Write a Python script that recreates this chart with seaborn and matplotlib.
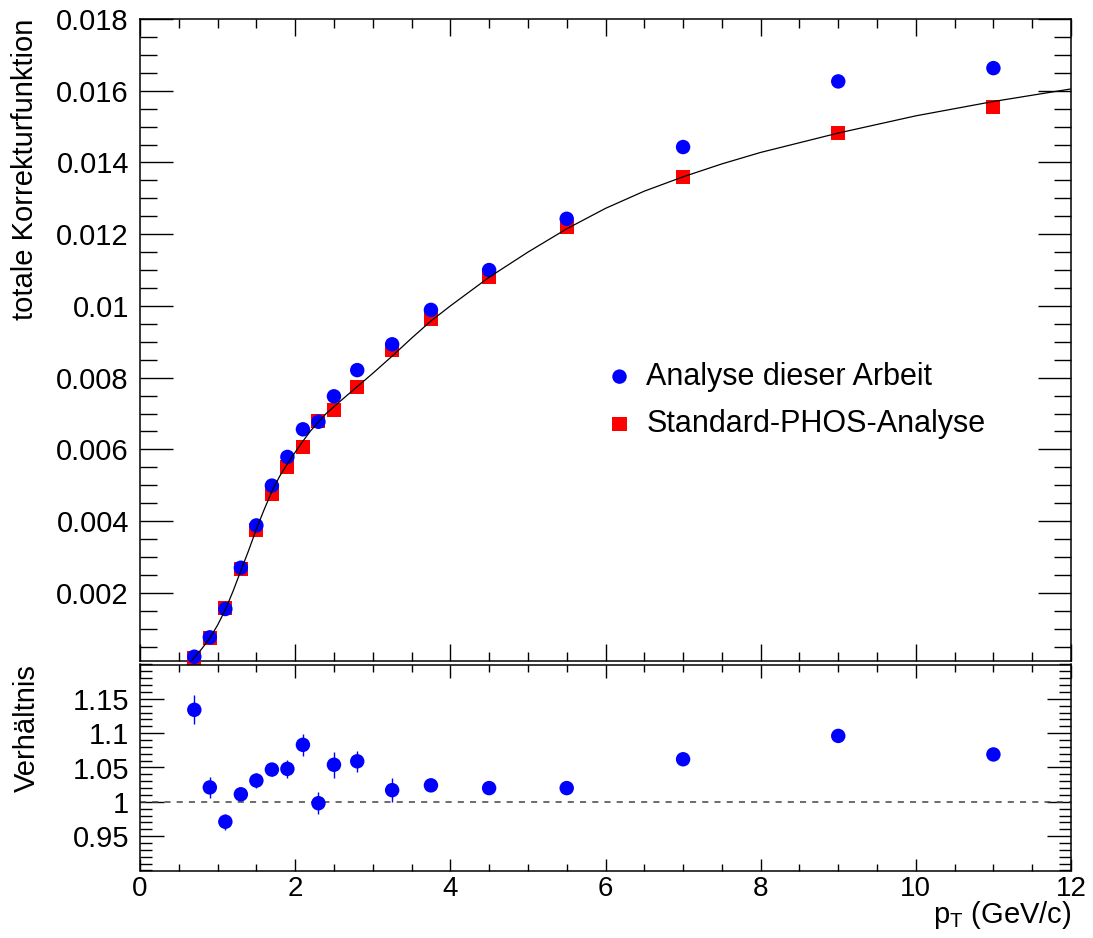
import numpy as np
import pandas as pd
import matplotlib
matplotlib.use("Agg")
import matplotlib.pyplot as plt
from matplotlib.ticker import MultipleLocator, FixedLocator
import seaborn as sns

# ---------------- data ----------------
pt = [0.7, 0.9, 1.1, 1.3, 1.5, 1.7, 1.9, 2.1, 2.3, 2.5, 2.8, 3.25, 3.75, 4.5, 5.5, 7.0, 9.0, 11.0]
corr_this = [0.00022, 0.00076, 0.00155, 0.00270, 0.00388, 0.00499, 0.00579, 0.00656, 0.00677,
             0.00748, 0.00821, 0.00893, 0.00989, 0.01100, 0.01243, 0.01443, 0.01626, 0.01663]
corr_std = [0.00019, 0.00074, 0.00159, 0.00267, 0.00375, 0.00476, 0.00552, 0.00606, 0.00679,
            0.00709, 0.00775, 0.00878, 0.00965, 0.01080, 0.01219, 0.01359, 0.01481, 0.01555]
ratio = [1.134, 1.021, 0.971, 1.011, 1.031, 1.047, 1.048, 1.083, 0.998,
         1.054, 1.059, 1.017, 1.024, 1.020, 1.020, 1.062, 1.096, 1.069]
ratio_err = [0.021, 0.015, 0.012, 0.006, 0.011, 0.009, 0.013, 0.016, 0.016,
             0.019, 0.015, 0.017, 0.006, 0.005, 0.005, 0.004, 0.004, 0.004]

# fit curve
fit_x = [0.63, 0.7, 0.8, 0.9, 1.0, 1.1, 1.2, 1.3, 1.4, 1.5, 1.6, 1.7, 1.8, 1.9, 2.0, 2.1, 2.2,
         2.4, 2.6, 2.8, 3.0, 3.25, 3.5, 3.75, 4.0, 4.5, 5.0, 5.5, 6.0, 6.5, 7.0, 7.5, 8.0,
         9.0, 10.0, 11.0, 12.0]
fit_y = [0.00000, 0.00020, 0.00045, 0.00074, 0.00110, 0.00153, 0.00205, 0.00262, 0.00318,
         0.00378, 0.00432, 0.00483, 0.00525, 0.00560, 0.00592, 0.00623, 0.00652,
         0.00700, 0.00738, 0.00775, 0.00812, 0.00860, 0.00910, 0.00958, 0.01000, 0.01080,
         0.01150, 0.01215, 0.01272, 0.01320, 0.01360, 0.01396, 0.01428,
         0.01482, 0.01530, 0.01570, 0.01605]

label_this = "Analyse dieser Arbeit"
label_std = "Standard-PHOS-Analyse"
xticks_major = [0, 2, 4, 6, 8, 10, 12]
xtick_labels = ["0", "2", "4", "6", "8", "10", "12"]
ytop_ticks = [0.002, 0.004, 0.006, 0.008, 0.010, 0.012, 0.014, 0.016, 0.018]
ytop_labels = ["0.002", "0.004", "0.006", "0.008", "0.01", "0.012", "0.014", "0.016", "0.018"]
ybot_ticks = [0.95, 1.0, 1.05, 1.1, 1.15]
ybot_labels = ["0.95", "1", "1.05", "1.1", "1.15"]

df_this = pd.DataFrame({"pt": pt, "val": corr_this})
df_std = pd.DataFrame({"pt": pt, "val": corr_std})
df_fit = pd.DataFrame({"pt": fit_x, "val": fit_y})
df_ratio = pd.DataFrame({"pt": pt, "ratio": ratio, "err": ratio_err})

# ---------------- style ----------------
sns.set_theme(style="ticks")
plt.rcParams["font.family"] = ["Liberation Sans", "DejaVu Sans"]
plt.rcParams["axes.linewidth"] = 1.1
for k in ["text.color", "axes.labelcolor", "xtick.color", "ytick.color", "axes.edgecolor"]:
    plt.rcParams[k] = "black"
FS = 21
FSX = 20
FSL = 22

W, H = 1093, 938
fig = plt.figure(figsize=(W / 100, H / 100), dpi=100)
fig.patch.set_facecolor("white")

def fx(px):
    return px / W

def fy(py):
    return 1 - py / H

L, R = 140, 1071
ax1 = fig.add_axes([fx(L), fy(661), fx(R) - fx(L), fy(19) - fy(661)])
ax2 = fig.add_axes([fx(L), fy(870.5), fx(R) - fx(L), fy(664.5) - fy(870.5)])

blue = "#0000ff"
red = "#ff0000"
msz = 10.4

# top panel
sns.scatterplot(data=df_std, x="pt", y="val", ax=ax1, marker="s", s=msz ** 2 * 0.95,
                color=red, edgecolor="none", linewidth=0, label=label_std, zorder=3, clip_on=False)
sns.scatterplot(data=df_this, x="pt", y="val", ax=ax1, marker="o", s=msz ** 2,
                color=blue, edgecolor="none", linewidth=0, label=label_this, zorder=4, clip_on=False)
sns.lineplot(data=df_fit, x="pt", y="val", ax=ax1, color="black", linewidth=0.9,
             zorder=5, legend=False)

ax1.set_xlim(0, 12)
ax1.set_ylim(0.0001, 0.018)
ax1.set_xlabel("")
ax1.set_ylabel("")
ax1.xaxis.set_major_locator(FixedLocator(xticks_major))
ax1.xaxis.set_minor_locator(MultipleLocator(0.5))
ax1.set_xticklabels([])
ax1.yaxis.set_major_locator(FixedLocator(ytop_ticks))
ax1.set_yticklabels(ytop_labels)
ax1.yaxis.set_minor_locator(MultipleLocator(0.0005))
ax1.tick_params(axis="y", which="major", direction="in", length=24, width=1.0,
                left=True, right=True, labelsize=FS, pad=8)
ax1.tick_params(axis="y", which="minor", direction="in", length=12, width=1.0,
                left=True, right=True)
ax1.tick_params(axis="x", which="major", direction="in", length=12, width=1.0,
                top=True, bottom=True, labelbottom=False)
ax1.tick_params(axis="x", which="minor", direction="in", length=6.5, width=1.0,
                top=True, bottom=True)

h, l = ax1.get_legend_handles_labels()
ax1.legend(handles=h[::-1], labels=l[::-1],
           loc="center left", bbox_to_anchor=(fx(605), fy(400.5)),
           bbox_transform=fig.transFigure, frameon=False, fontsize=FSL,
           handlelength=0.95, handletextpad=0.4, labelspacing=0.58,
           borderpad=0, borderaxespad=0, markerscale=1.0)

# bottom panel
ax2.axhline(1.0, color="#444444", linestyle=(0, (4, 4)), linewidth=1.1, zorder=1)
ax2.errorbar(df_ratio["pt"], df_ratio["ratio"], yerr=df_ratio["err"], fmt="none",
             ecolor=blue, elinewidth=1.0, capsize=0, zorder=2)
sns.scatterplot(data=df_ratio, x="pt", y="ratio", ax=ax2, marker="o", s=msz ** 2,
                color=blue, edgecolor="none", linewidth=0, zorder=3, legend=False)
ax2.set_xlim(0, 12)
ax2.set_ylim(0.9, 1.2)
ax2.set_xlabel("")
ax2.set_ylabel("")
ax2.xaxis.set_major_locator(FixedLocator(xticks_major))
ax2.set_xticklabels(xtick_labels)
ax2.xaxis.set_minor_locator(MultipleLocator(0.5))
ax2.yaxis.set_major_locator(FixedLocator(ybot_ticks))
ax2.set_yticklabels(ybot_labels)
ax2.yaxis.set_minor_locator(MultipleLocator(0.01))
ax2.tick_params(axis="y", which="major", direction="in", length=17, width=1.0,
                left=True, right=True, labelsize=FS, pad=8)
ax2.tick_params(axis="y", which="minor", direction="in", length=8.5, width=1.0,
                left=True, right=True)
ax2.tick_params(axis="x", which="major", direction="in", length=9, width=1.0,
                top=True, bottom=True, labelsize=FSX, pad=4)
ax2.tick_params(axis="x", which="minor", direction="in", length=5, width=1.0,
                top=True, bottom=True)

# axis titles
fig.text(fx(25), fy(19), "totale Korrekturfunktion", rotation=90, ha="center", va="top",
         fontsize=FS)
fig.text(fx(27), fy(664), "Verhältnis", rotation=90, ha="center", va="top", fontsize=FS)
fig.text(fx(R), fy(923), r"p$_{\mathregular{T}}$ (GeV/c)", ha="right", va="baseline",
         fontsize=FS)

fig.savefig("out.png", dpi=100, facecolor="white")
